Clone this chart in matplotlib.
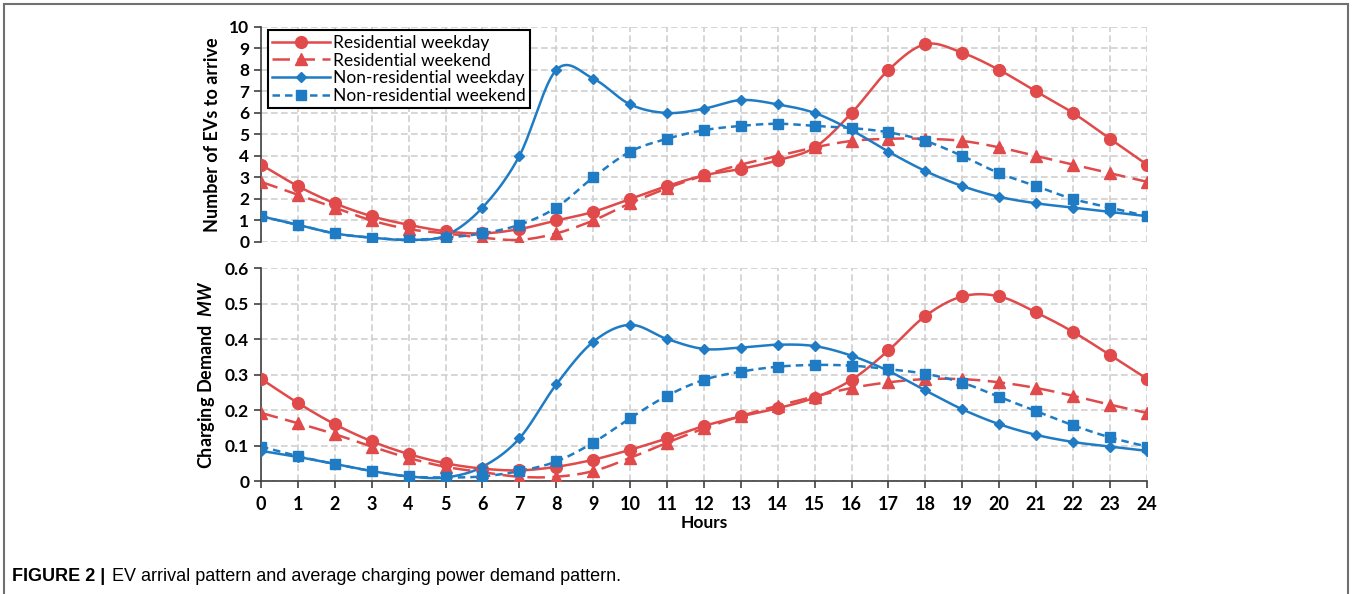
import numpy as np
import matplotlib
matplotlib.use("Agg")
import matplotlib.pyplot as plt
from matplotlib.lines import Line2D
from matplotlib.patches import Rectangle

plt.rcParams['font.family'] = ['Lato', 'DejaVu Sans']
plt.rcParams['mathtext.fontset'] = 'custom'
plt.rcParams['mathtext.it'] = 'Lato:italic:bold'
plt.rcParams['mathtext.rm'] = 'Lato:bold'

hours = list(range(25))

# number of EVs to arrive
ev_res_wd = [3.6, 2.6, 1.8, 1.2, 0.8, 0.5, 0.4, 0.6, 1.0, 1.4, 2.0, 2.6, 3.1,
             3.4, 3.8, 4.4, 6.0, 8.0, 9.2, 8.8, 8.0, 7.0, 6.0, 4.8, 3.6]
ev_res_we = [2.8, 2.2, 1.6, 1.0, 0.6, 0.4, 0.2, 0.1, 0.4, 1.0, 1.8, 2.5, 3.1,
             3.6, 4.0, 4.4, 4.7, 4.8, 4.8, 4.7, 4.4, 4.0, 3.6, 3.2, 2.8]
ev_non_wd = [1.2, 0.8, 0.4, 0.2, 0.1, 0.3, 1.6, 4.0, 8.0, 7.6, 6.4, 6.0, 6.2,
             6.6, 6.4, 6.0, 5.2, 4.2, 3.3, 2.6, 2.1, 1.8, 1.6, 1.4, 1.2]
ev_non_we = [1.2, 0.8, 0.4, 0.2, 0.1, 0.2, 0.4, 0.8, 1.6, 3.0, 4.2, 4.8, 5.2,
             5.4, 5.5, 5.4, 5.3, 5.1, 4.7, 4.0, 3.2, 2.6, 2.0, 1.6, 1.2]

# charging demand (MW)
mw_res_wd = [0.288, 0.22, 0.16, 0.112, 0.076, 0.05, 0.035, 0.03, 0.04, 0.06, 0.088,
             0.12, 0.155, 0.182, 0.205, 0.235, 0.285, 0.368, 0.465, 0.52, 0.52,
             0.475, 0.42, 0.355, 0.288]
mw_res_we = [0.192, 0.163, 0.132, 0.097, 0.065, 0.04, 0.025, 0.012, 0.012, 0.028, 0.065,
             0.108, 0.148, 0.183, 0.212, 0.238, 0.262, 0.278, 0.287, 0.287, 0.278,
             0.262, 0.24, 0.215, 0.192]
mw_non_wd = [0.085, 0.068, 0.048, 0.028, 0.013, 0.01, 0.04, 0.12, 0.272, 0.392, 0.44,
             0.4, 0.372, 0.376, 0.384, 0.38, 0.353, 0.31, 0.255, 0.202, 0.16,
             0.13, 0.11, 0.097, 0.085]
mw_non_we = [0.097, 0.07, 0.048, 0.028, 0.013, 0.01, 0.013, 0.028, 0.055, 0.108, 0.177,
             0.24, 0.285, 0.308, 0.322, 0.327, 0.325, 0.315, 0.302, 0.277, 0.237,
             0.197, 0.157, 0.123, 0.097]

labels = ['Residential weekday', 'Residential weekend',
          'Non-residential weekday', 'Non-residential weekend']

red = '#e04a4a'
blue = '#1f7cc4'
styles = [
    dict(color=red, marker='o', ms=8.5, ls='-'),
    dict(color=red, marker='^', ms=8, ls=(0, (7, 3))),
    dict(color=blue, marker='D', ms=5, ls='-'),
    dict(color=blue, marker='s', ms=7, ls=(0, (3, 2))),
]


def smooth(x, y, n=20):
    # excel-like smoothed line (catmull-rom through the points)
    x = np.asarray(x, float); y = np.asarray(y, float)
    px = np.concatenate([[2*x[0]-x[1]], x, [2*x[-1]-x[-2]]])
    py = np.concatenate([[2*y[0]-y[1]], y, [2*y[-1]-y[-2]]])
    xs, ys = [], []
    t = np.linspace(0, 1, n, endpoint=False)
    for i in range(1, len(px)-2):
        for p, out in ((px, xs), (py, ys)):
            p0, p1, p2, p3 = p[i-1], p[i], p[i+1], p[i+2]
            out.append(0.5*((2*p1) + (-p0+p2)*t + (2*p0-5*p1+4*p2-p3)*t**2
                            + (-p0+3*p1-3*p2+p3)*t**3))
    xs.append([x[-1]]); ys.append([y[-1]])
    return np.concatenate(xs), np.concatenate(ys)


def draw(ax, series):
    for y, st in zip(series, styles):
        sx, sy = smooth(hours, y)
        ax.plot(sx, sy, color=st['color'], ls=st['ls'], lw=1.8, zorder=3)
        ax.plot(hours, y, color=st['color'], marker=st['marker'], ms=st['ms'],
                ls='none', zorder=4)


def style(ax):
    ax.set_xlim(0, 24)
    ax.set_xticks(hours)
    ax.grid(True, color='#cfcfcf', ls=(0, (4, 2)), lw=1.2)
    ax.set_axisbelow(True)
    for s in ['top', 'right']:
        ax.spines[s].set_visible(False)
    ax.spines['left'].set_color('#404040')
    ax.spines['left'].set_linewidth(1.2)
    ax.tick_params(axis='y', direction='out', length=5, width=1.2,
                   color='#404040', labelsize=12.5)
    for lb in ax.get_yticklabels():
        lb.set_fontweight('bold')


fig = plt.figure(figsize=(13.52, 5.94), dpi=100)
fig.patches.append(Rectangle((0.003, -0.1), 0.994, 1.093, transform=fig.transFigure,
                             fill=False, ec='#707070', lw=1.5))

ax1 = fig.add_axes([0.1930, 0.5926, 0.6553, 0.3620])
ax2 = fig.add_axes([0.1930, 0.1902, 0.6553, 0.3586])

draw(ax1, [ev_res_wd, ev_res_we, ev_non_wd, ev_non_we])
ax1.set_ylim(0, 10)
ax1.set_yticks(range(11))
style(ax1)
ax1.spines['bottom'].set_visible(False)
ax1.tick_params(axis='x', length=0, labelbottom=False)
ax1.set_ylabel('Number of EVs to arrive', fontsize=13, fontweight='bold', labelpad=6)

handles = [Line2D([], [], color=st['color'], ls=st['ls'], lw=1.8, marker=st['marker'],
                  ms=st['ms']) for st in styles]
leg = ax1.legend(handles, labels, loc='upper left', bbox_to_anchor=(0.004, 1.0),
                 fontsize=12.5, frameon=True, fancybox=False, framealpha=1,
                 edgecolor='black', handlelength=3.3, handletextpad=0.2,
                 borderpad=0.25, labelspacing=0.1, borderaxespad=0.2)
leg.get_frame().set_linewidth(1.5)

draw(ax2, [mw_res_wd, mw_res_we, mw_non_wd, mw_non_we])
ax2.set_ylim(0, 0.6)
ax2.set_yticks([0, 0.1, 0.2, 0.3, 0.4, 0.5, 0.6])
ax2.set_yticklabels(['0', '0.1', '0.2', '0.3', '0.4', '0.5', '0.6'])
style(ax2)
ax2.spines['bottom'].set_color('#404040')
ax2.spines['bottom'].set_linewidth(1.2)
ax2.tick_params(axis='x', direction='out', length=5, width=1.2, color='#404040',
                labelsize=13, pad=6)
for lb in ax2.get_xticklabels():
    lb.set_fontweight('bold')
ax2.set_ylabel('Charging Demand  $MW$', fontsize=13, fontweight='bold', labelpad=6)
ax2.set_xlabel('Hours', fontsize=12.5, fontweight='bold', labelpad=1)

cap_font = ['Liberation Sans Narrow', 'Liberation Sans']
fig.text(0.009, 0.022, 'FIGURE 2 |', fontsize=13, fontweight='bold', family=cap_font)
fig.text(0.0828, 0.022, 'EV arrival pattern and average charging power demand pattern.',
         fontsize=13, family=cap_font)

fig.savefig('out.png', dpi=100)
